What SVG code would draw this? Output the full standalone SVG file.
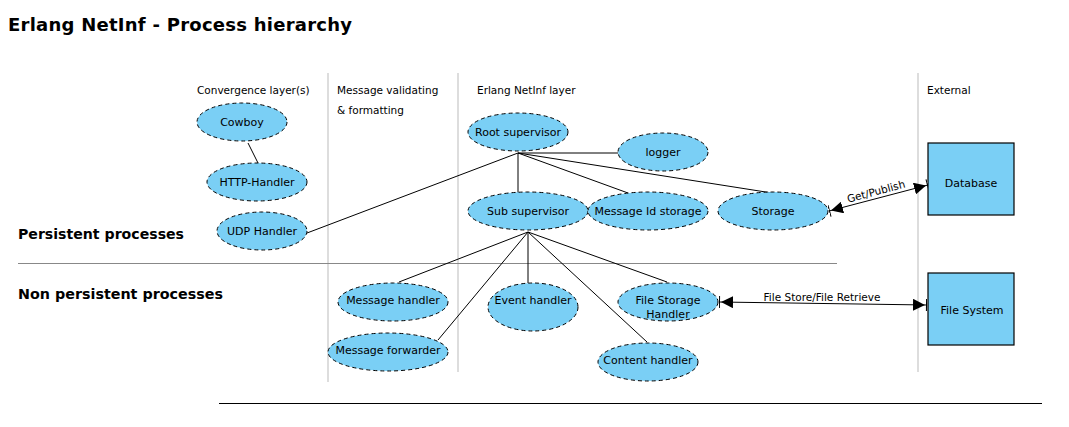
<svg xmlns="http://www.w3.org/2000/svg" width="1069" height="427" viewBox="0 0 1069 427">
<defs>
<style>
text{font-family:"DejaVu Sans","Liberation Sans",sans-serif;fill:#000}
.t{font-size:11px;text-anchor:middle}
.lbl{font-size:10.5px}
.hd{font-size:14.5px;font-weight:bold}
.n ellipse{fill:#7acff5;stroke:#000;stroke-width:1;stroke-dasharray:4,3}
.n rect{fill:#7acff5;stroke:#000;stroke-width:1.2}
.c line{stroke:#000;stroke-width:1}
.g{stroke:#bbb;stroke-width:1}
</style>
<marker id="ah" viewBox="0 0 14 12" refX="14" refY="6" markerWidth="14" markerHeight="12" markerUnits="userSpaceOnUse" orient="auto-start-reverse">
<path d="M0,0 L12,6 L0,12 Z" fill="#000"/>
<line x1="13.5" y1="0" x2="13.5" y2="12" stroke="#000" stroke-width="1"/>
</marker>
</defs>
<rect width="1069" height="427" fill="#fff"/>
<text x="8" y="31" style="font-size:18px;font-weight:bold" textLength="344" lengthAdjust="spacing">Erlang NetInf - Process hierarchy</text>

<line class="g" x1="328" y1="73" x2="328" y2="382"/>
<line class="g" x1="458" y1="73" x2="458" y2="372"/>
<line class="g" x1="918" y1="73" x2="918" y2="372"/>
<line x1="18" y1="263.5" x2="837" y2="263.5" stroke="#888" stroke-width="1"/>
<line x1="219" y1="403.5" x2="1042" y2="403.5" stroke="#000" stroke-width="1.2"/>

<text class="lbl" x="197" y="94">Convergence layer(s)</text>
<text class="lbl" x="337" y="94">Message validating</text>
<text class="lbl" x="337" y="114">&amp; formatting</text>
<text class="lbl" x="477" y="94">Erlang NetInf layer</text>
<text class="lbl" x="927" y="94">External</text>
<text class="hd" x="18" y="239" textLength="166" lengthAdjust="spacingAndGlyphs">Persistent processes</text>
<text class="hd" x="18" y="299" textLength="205" lengthAdjust="spacingAndGlyphs">Non persistent processes</text>

<g class="c" id="connectors">
<line x1="248" y1="143" x2="258" y2="163"/>
<line x1="518" y1="153" x2="307" y2="233"/>
<line x1="518" y1="153" x2="618" y2="153"/>
<line x1="518" y1="153" x2="518" y2="193"/>
<line x1="518" y1="153" x2="628" y2="193"/>
<line x1="518" y1="153" x2="772" y2="193"/>
<line x1="528" y1="232" x2="399" y2="282"/>
<line x1="528" y1="232" x2="438" y2="340"/>
<line x1="528" y1="232" x2="528" y2="283"/>
<line x1="528" y1="232" x2="647" y2="342"/>
<line x1="528" y1="232" x2="667" y2="282"/>
<line x1="829" y1="211" x2="928" y2="185" marker-start="url(#ah)" marker-end="url(#ah)"/>
<line x1="719" y1="302" x2="927" y2="305" marker-start="url(#ah)" marker-end="url(#ah)"/>
<text class="lbl" x="0" y="0" text-anchor="middle" transform="translate(877,195) rotate(-15)">Get/Publish</text>
<text class="lbl" x="822" y="301" text-anchor="middle">File Store/File Retrieve</text>
</g>

<g class="n" id="cowboy"><ellipse cx="242" cy="122" rx="45" ry="19"/><text class="t" x="242" y="126">Cowboy</text></g>
<g class="n" id="http-handler"><ellipse cx="257" cy="182" rx="50" ry="19"/><text class="t" x="257" y="186">HTTP-Handler</text></g>
<g class="n" id="udp-handler"><ellipse cx="262" cy="231" rx="45" ry="19"/><text class="t" x="262" y="235">UDP Handler</text></g>
<g class="n" id="root-supervisor"><ellipse cx="518" cy="132" rx="50" ry="19"/><text class="t" x="518" y="136">Root supervisor</text></g>
<g class="n" id="logger"><ellipse cx="663" cy="152" rx="45" ry="19"/><text class="t" x="663" y="156">logger</text></g>
<g class="n" id="sub-supervisor"><ellipse cx="528" cy="211" rx="60" ry="19"/><text class="t" x="528" y="215">Sub supervisor</text></g>
<g class="n" id="message-id-storage"><ellipse cx="648" cy="211" rx="60" ry="19"/><text class="t" x="648" y="215">Message Id storage</text></g>
<g class="n" id="storage"><ellipse cx="773" cy="211" rx="55" ry="19"/><text class="t" x="773" y="215">Storage</text></g>
<g class="n" id="message-handler"><ellipse cx="393" cy="302" rx="55" ry="19"/><text class="t" x="393" y="304">Message handler</text></g>
<g class="n" id="message-forwarder"><ellipse cx="388" cy="352" rx="60" ry="19"/><text class="t" x="388" y="354">Message forwarder</text></g>
<g class="n" id="event-handler"><ellipse cx="533" cy="307" rx="45" ry="24"/><text class="t" x="533" y="304">Event handler</text></g>
<g class="n" id="file-storage-handler"><ellipse cx="668" cy="302" rx="50" ry="19"/><text class="t" x="668" y="304">File Storage</text><text class="t" x="668" y="318">Handler</text></g>
<g class="n" id="content-handler"><ellipse cx="648" cy="362" rx="50" ry="19"/><text class="t" x="648" y="364">Content handler</text></g>
<g class="n" id="database"><rect x="928" y="143" width="86" height="72"/><text class="t" x="971" y="187">Database</text></g>
<g class="n" id="file-system"><rect x="928" y="273" width="86" height="72"/><text class="t" x="972" y="314">File System</text></g>
</svg>
